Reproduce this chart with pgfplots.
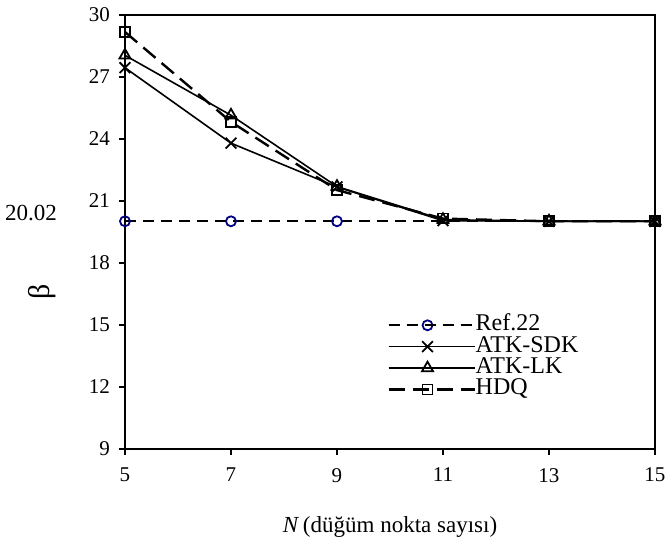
\documentclass[border=0pt]{standalone}
\usepackage{pgfplots}
\pgfplotsset{compat=1.18}
\usepackage{fontspec}
\setmainfont{Liberation Serif}
\definecolor{refblue}{HTML}{000080}

\begin{document}
\begin{tikzpicture}
\begin{axis}[
  scale only axis,
  width=265pt, height=217pt,
  xmin=5, xmax=15, ymin=9, ymax=30,
  xtick={5,7,...,15}, ytick={9,12,...,30},
  tick align=outside, tick pos=left,
  major tick length=3pt,
  axis line style={line width=1.3pt},
  tick style={line width=1pt, black},
  tick label style={font=\fontsize{10.5}{12}\selectfont},
  /pgf/number format/assume math mode=true,
  xticklabel style={yshift=-3pt},
  yticklabel style={xshift=-1pt},
  xlabel={\textit{N}\,(düğüm nokta sayısı)},
  xlabel style={font=\fontsize{11.5}{12}\selectfont,
    at={(axis description cs:0.5,-0.18)}, anchor=center},
  ylabel={β},
  ylabel style={font=\fontsize{15}{16}\selectfont,
    at={(axis description cs:-0.157,0.362)}, anchor=center},
  legend style={draw=none, fill=none, inner sep=0pt, outer sep=0pt,
    at={(axis description cs:0.495,0.307)}, anchor=north west,
    font=\fontsize{12}{12}\selectfont, row sep=1.2pt,
    nodes={inner sep=0pt, text height=7.5pt, text depth=2pt}},
  legend cell align=left,
  legend image code/.code={
    \draw[#1] (0pt,0pt) -- (39pt,0pt);
    \draw[#1, solid] plot coordinates {(19.5pt,0pt)};
    \path (0pt,0pt) -- (43pt,0pt);
  },
  clip=false,
]
\addplot[black, dash pattern=on 5.5pt off 3.5pt, line width=1.15pt,
  mark=o, mark options={refblue, solid, line width=0.9pt, scale=1.25},
  mark indices={1,2,3}]
  coordinates {(5,20.02) (7,20.02) (9,20.02) (11,20.02) (13,20.02) (15,20.02)};
\addplot[black, line width=0.8pt, mark=x, mark options={solid, scale=1.9, line width=0.9pt}]
  coordinates {(5,27.45) (7,23.8) (9,21.68) (11,20.05) (13,20.02) (15,20.02)};
\addplot[black, line width=0.8pt, mark=triangle, mark options={solid, scale=1.6, line width=0.9pt}]
  coordinates {(5,28.05) (7,25.15) (9,21.7) (11,20.1) (13,20.02) (15,20.02)};
\addplot[black, dash pattern=on 8pt off 4pt, line width=1.2pt,
  mark=square, mark options={solid, scale=1.25, line width=0.9pt}]
  coordinates {(5,29.18) (7,24.83) (9,21.53) (11,20.15) (13,20.02) (15,20.02)};
\legend{Ref.22, ATK-SDK, ATK-LK, HDQ}
\node[anchor=east, font=\fontsize{11.5}{12}\selectfont]
  at ([xshift=-30.5pt, yshift=4pt]axis cs:5,20.02) {20.02};
\coordinate (bbsw) at (axis description cs:-0.2358,-0.2512);
\coordinate (bbne) at (axis description cs:1.0189,1.0346);
\end{axis}
\pgfresetboundingbox
\useasboundingbox (bbsw) rectangle (bbne);
\end{tikzpicture}
\end{document}
